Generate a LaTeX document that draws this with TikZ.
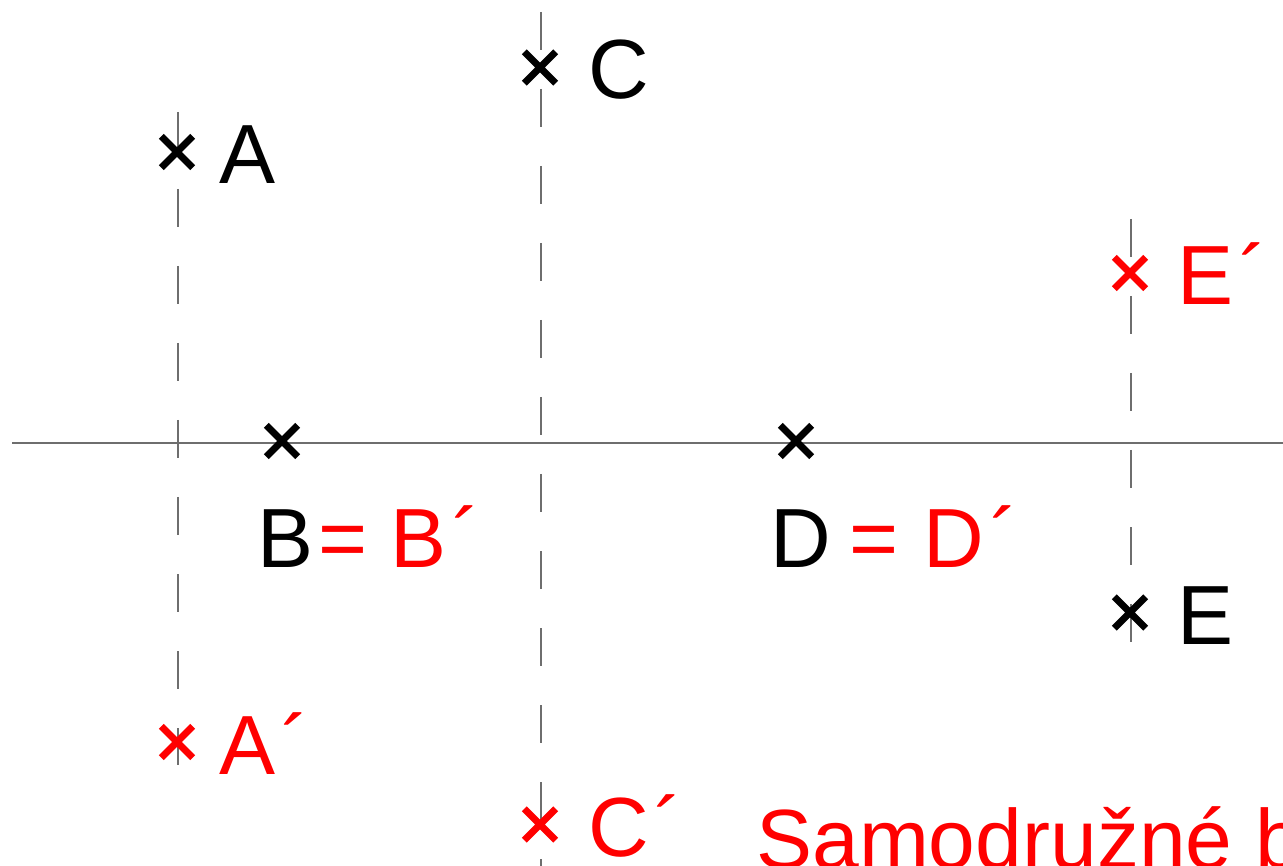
\documentclass[tikz,border=0pt]{standalone}
\usepackage{fontspec}
\setmainfont{Liberation Sans}
\usepackage{tikz}
\usetikzlibrary{shapes.misc}
\definecolor{axisgray}{RGB}{110,110,110}
\definecolor{imgred}{RGB}{255,0,0}
\newcommand{\accmark}{\kern0.07em´}

\begin{document}
\begin{tikzpicture}[x=0.75pt,y=-0.75pt,
  ptmark/.style={cross out, draw=black, line width=5.2pt, minimum size=23.5pt, inner sep=0pt, outer sep=0pt},
  ptlbl/.style={anchor=base west, inner sep=0pt, font=\fontsize{63}{70}\selectfont},
  projline/.style={axisgray, line width=0.8pt, dash pattern=on 28.5pt off 29.25pt}]
\useasboundingbox (0,0) rectangle (1283,866);
\clip (0,0) rectangle (1283,866);
% axis
\coordinate (axl) at (12,443);
\coordinate (axr) at (1283,443);
\draw[axisgray, line width=1pt] (axl)--(axr);
% dashed lines through the point pairs
\coordinate (atop) at (178,112);
\coordinate (abot) at (178,765);
\coordinate (ctop) at (541,12);
\coordinate (cbot) at (541,866);
\coordinate (etop) at (1131,219);
\coordinate (ebot) at (1131,642);
\draw[projline] (atop)--(abot);
\draw[projline] (ctop)--(cbot);
\draw[projline] (etop)--(ebot);
% original points
\node[ptmark] (A) at (177,152) {};
\node[ptmark] (B) at (282,441) {};
\node[ptmark] (C) at (540,67.5) {};
\node[ptmark] (D) at (796,441) {};
\node[ptmark] (E) at (1130,612.5) {};
% images
\node[ptmark, draw=imgred] (A') at (177,742) {};
\node[ptmark, draw=imgred] (C') at (540,824.5) {};
\node[ptmark, draw=imgred] (E') at (1130,273) {};
% labels
\node[ptlbl] (lA) at (219,184) {A};
\node[ptlbl] (lC) at (588,99) {C};
\node[ptlbl] (lE) at (1177,644) {E};
\node[ptlbl] (lB) at (257,567) {B\kern4pt{\color{imgred}= B\accmark}};
\node[ptlbl] (lD) at (770,567) {D\kern14pt{\color{imgred}=\kern19pt D\accmark}};
\node[ptlbl, text=imgred] (lA') at (219,774) {A\accmark};
\node[ptlbl, text=imgred] (lC') at (588,856) {C\accmark};
\node[ptlbl, text=imgred] (lE') at (1177,305) {E\accmark};
\node[ptlbl, text=imgred] (title) at (756,868) {Samodružné body};
\end{tikzpicture}
\end{document}
